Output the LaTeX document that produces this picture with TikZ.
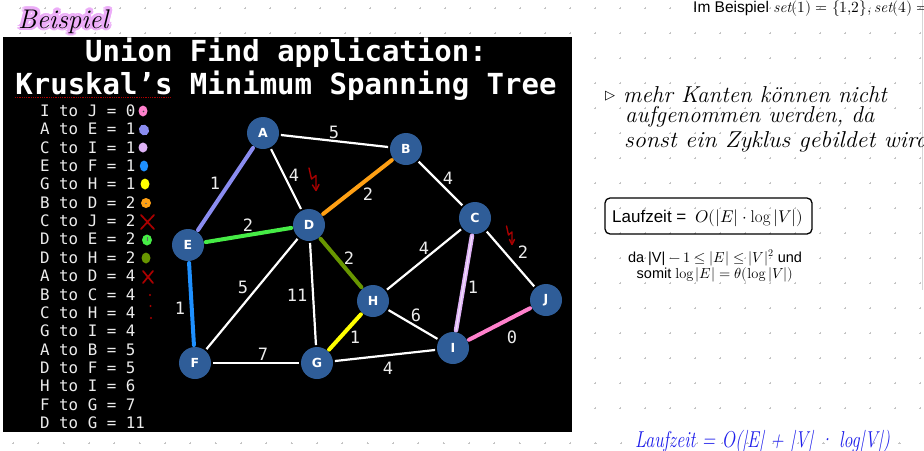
\documentclass[tikz,border=0pt]{standalone}
\usepackage{unicode-math}
\newfontfamily\arialfont{Liberation Sans}
\newfontfamily\slidemono{DejaVu Sans Mono}
\newfontfamily\vertexfont{DejaVu Sans}
\newfontfamily\symfont{DejaVu Sans}
\usetikzlibrary{calc}

\definecolor{vertexblue}{RGB}{47,93,152}
\definecolor{slidetext}{RGB}{236,236,236}
\definecolor{gridgrey}{RGB}{196,196,196}
\definecolor{inkred}{RGB}{170,0,0}
\definecolor{inkblue}{RGB}{30,30,235}
\definecolor{halo}{RGB}{236,172,248}
\definecolor{hlpink}{RGB}{255,128,204}
\definecolor{hlperi}{RGB}{138,140,240}
\definecolor{hllilac}{RGB}{222,178,246}
\definecolor{hlblue}{RGB}{30,144,255}
\definecolor{hlyellow}{RGB}{255,255,0}
\definecolor{hlorange}{RGB}{255,160,20}
\definecolor{hlgreen}{RGB}{70,236,70}
\definecolor{hlolive}{RGB}{104,150,0}

\begin{document}
\begin{tikzpicture}[x=1pt,y=-1pt,
  vertex/.style={circle, fill=vertexblue, minimum size=32pt, inner sep=0pt, outer sep=2pt,
    text=white, font=\vertexfont\bfseries\fontsize{12.5}{12.5}\selectfont},
  edge/.style={draw=white, line width=2.2pt},
  weight/.style={text=slidetext, inner sep=0pt, font=\slidemono\fontsize{17}{17}\selectfont},
  hl/.style={line width=4pt, line cap=round},
  listrow/.style={anchor=base west, inner sep=0pt, text=slidetext,
    font=\slidemono\fontsize{15.8}{16}\selectfont},
  titleline/.style={anchor=base, inner sep=0pt, text=white,
    font=\slidemono\bfseries\fontsize{29}{29}\selectfont},
  gridmark/.style={draw=gridgrey, line width=0.5pt},
  redink/.style={draw=inkred, line width=1.4pt, line cap=round, line join=round},
  hand/.style={anchor=base west, inner sep=0pt, font=\itshape\fontsize{23}{23}\selectfont},
  printed/.style={anchor=base west, inner sep=0pt, font=\arialfont\fontsize{#1}{#1}\selectfont},
]
\useasboundingbox (0,0) rectangle (924,450);
\fill[white] (0,0) rectangle (924,450);

% dotted page grid
\foreach \gy in {8,33,...,408}{
  \foreach \gx in {20,45,...,920}{
    \draw[gridmark] (\gx-1.1,\gy) -- (\gx+1.1,\gy) (\gx,\gy-1.1) -- (\gx,\gy+1.1);
  }
}
\foreach \k [evaluate=\k as \gx using 13+25.33*\k] in {0,...,36}{
  \draw[gridmark] (\gx-1.1,443) -- (\gx+1.1,443) (\gx,441.9) -- (\gx,444.1);
}
\draw[gridgrey!70, line width=0.8pt] (922,0) -- (922,290);

% heading with highlighter glow
\foreach \a [count=\n] in {0,22.5,...,337.5}{
  \node[hand, font=\itshape\fontsize{27}{27}\selectfont, text=halo, shift={(\a:2.8)}]
    (glow\n) at (18,28) {Beispiel};
}
\node[hand, font=\itshape\fontsize{27}{27}\selectfont, text=black] (beispiel) at (18,28) {Beispiel};

% slide
\fill[black] (3,37) rectangle (572,432);
\node[titleline] (title1) at (286,61) {Union Find application:};
\node[titleline] (title2) at (286,94) {Kruskal’s Minimum Spanning Tree};
\draw[inkred, densely dotted, line width=0.8pt] (15,97.5) -- (171,97.5);

% sorted edge list
\foreach \t [count=\i from 0] in {I to J = 0, A to E = 1, C to I = 1, E to F = 1, G to H = 1,
    B to D = 2, C to J = 2, D to E = 2, D to H = 2, A to D = 4, B to C = 4, C to H = 4,
    G to I = 4, A to B = 5, D to F = 5, H to I = 6, F to G = 7, D to G = 11}{
  \node[listrow] (row\i) at (40,116.4+18.37*\i) {\t};
}

% marks next to the list
\fill[hlpink] (143,111) ellipse [x radius=4.5, y radius=5.5];
\fill[black!70] (143.5,111.5) circle (0.8);
\fill[hlperi, rotate around={30:(144,130)}] (144,130) ellipse [x radius=5, y radius=5.5];
\fill[hllilac] (143,147.5) ellipse [x radius=4.5, y radius=5];
\fill[hlblue] (144,166) ellipse [x radius=4.2, y radius=5.5];
\fill[hlyellow] (145,184) ellipse [x radius=4.5, y radius=5.5];
\fill[hlorange] (146,203) ellipse [x radius=5, y radius=5];
\fill[black!60] (146,203.5) circle (0.8);
\draw[redink, line width=1.7pt] (141,215) -- (154,229) (154,215) -- (141,229);
\fill[hlgreen] (147,240) ellipse [x radius=5, y radius=5.5];
\draw[black!60, line width=0.8pt] (147,237) -- (147,241);
\fill[hlolive] (146,258) ellipse [x radius=4.5, y radius=5.5];
\draw[redink, line width=1.7pt] (143,271) -- (153,283) (153,271) -- (143,283);
\fill[inkred] (150,295) circle (1.1);
\fill[inkred] (150.5,306) circle (1.1);
\fill[inkred] (151,318) circle (1.1);

% graph
\node[vertex] (A) at (263,133) {A};
\node[vertex] (B) at (406,149) {B};
\node[vertex] (C) at (475,218) {C};
\node[vertex] (D) at (309,225) {D};
\node[vertex] (E) at (188,245) {E};
\node[vertex] (F) at (195,363) {F};
\node[vertex] (G) at (317,363) {G};
\node[vertex] (H) at (373,301) {H};
\node[vertex] (I) at (453,348) {I};
\node[vertex] (J) at (546,300) {J};

\foreach \u/\v in {A/B, A/D, A/E, B/D, B/C, D/E, D/H, D/F, D/G, E/F, F/G, G/H, G/I, H/I, H/C, C/I, C/J, I/J}{
  \draw[edge] (\u) -- (\v);
}

% edges taken into the tree
\draw[hl, hlperi] (A) -- (E);
\draw[hl, hlblue] (E) -- (F);
\draw[hl, hlgreen] (E) -- (D);
\draw[hl, hlorange] (D) -- (B);
\draw[hl, hlolive] (D) -- (H);
\draw[hl, hlyellow] (G) -- (H);
\draw[hl, hllilac, line width=4.5pt] (C) -- (I);
\draw[white!60!hllilac, line width=1.2pt] (C) -- (I);
\draw[hl, hlpink] (I) -- (J);

% weights
\node[weight] (wAB) at (334,132) {5};
\node[weight] (wAD) at (294,175) {4};
\node[weight] (wAE) at (215,183) {1};
\node[weight] (wBD) at (368,194) {2};
\node[weight] (wBC) at (448,178) {4};
\node[weight] (wDE) at (248,225) {2};
\node[weight] (wDH) at (349,258) {2};
\node[weight] (wDF) at (243,287) {5};
\node[weight] (wDG) at (297,295) {11};
\node[weight] (wEF) at (180,308) {1};
\node[weight] (wFG) at (263,354) {7};
\node[weight] (wGH) at (355,337) {1};
\node[weight] (wGI) at (388,368) {4};
\node[weight] (wHI) at (416,315) {6};
\node[weight] (wCH) at (424,248) {4};
\node[weight] (wCI) at (473,287) {1};
\node[weight] (wCJ) at (523,252) {2};
\node[weight] (wIJ) at (512,337) {0};

% contradiction marks
\draw[redink] (309,168) -- (311.5,179) -- (316,175.5) -- (316,190);
\draw[redink] (312.5,185) -- (316,190.5) -- (319,184.5);
\draw[redink] (506.5,226) -- (508.5,235) -- (512,232) -- (512,244);
\draw[redink] (509.5,239.5) -- (512,244.5) -- (514.5,239.5);

% notes on the page
\node[printed=15.5] (example) at (693,12.5)
  {Im Beispiel $\mathit{set}(1) = \{1{,}2\}, \mathit{set}(4) = \{$};
\node[font=\symfont\fontsize{13}{13}\selectfont, inner sep=0pt] (tri) at (610,96) {▷};
\node[hand] (n1) at (623,102) {mehr Kanten können nicht};
\node[hand] (n2) at (625,122) {aufgenommen werden, da};
\node[hand] (n3) at (624,147) {\scalebox{1.05}[1]{sonst ein Zyklus gebildet wird}};

\draw[black, line width=1.3pt, rounded corners=5pt] (605,198) rectangle (812,234);
\node[printed=17] (runtime) at (612,222) {Laufzeit = \;$O(|E|\cdot\log|V|)$};
\node[anchor=base, inner sep=0pt, font=\arialfont\fontsize{14.5}{14.5}\selectfont] (why1) at (715,262)
  {da |V| $-\,1 \le |E| \le |V|^2$ und};
\node[anchor=base, inner sep=0pt, font=\arialfont\fontsize{14.5}{14.5}\selectfont] (why2) at (715,278)
  {somit $\log|E| = \theta(\log|V|)$};

\node[hand, text=inkblue] (total) at (635,447)
  {\scalebox{0.78}[1]{Laufzeit = O(|E| + |V| · log|V|)}};
\end{tikzpicture}
\end{document}
